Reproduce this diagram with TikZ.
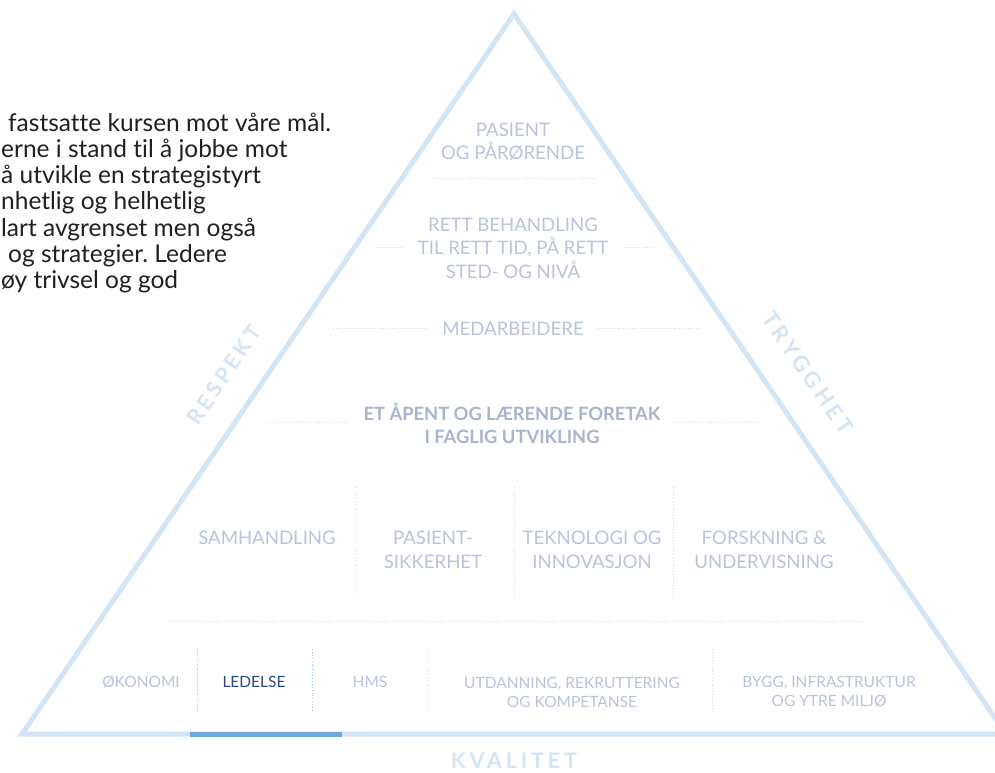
\documentclass[tikz,border=0pt]{standalone}
\usepackage{fontspec}
\setmainfont{Lato}[Ligatures=NoCommon]
\newfontfamily\spacedbold{Lato}[LetterSpace=18,Ligatures=NoCommon]
\definecolor{tric}{HTML}{D3E5F5}
\definecolor{segc}{HTML}{6FA8DC}
\definecolor{labc}{HTML}{B9C3DB}
\definecolor{boldc}{HTML}{A8B3CE}
\definecolor{navy}{HTML}{2B478A}
\definecolor{dotc}{HTML}{C6DBEF}
\definecolor{bodyc}{HTML}{231F20}
\frenchspacing
\begin{document}
\begin{tikzpicture}[x=1pt,y=-1pt,
  lab/.style={text=labc, font=\fontsize{18.6}{23.5}\selectfont, align=center, inner sep=0pt},
  smalllab/.style={text=labc, font=\fontsize{15.5}{19}\selectfont, align=center, inner sep=0pt},
  boldlab/.style={text=boldc, font=\fontsize{18.3}{23}\selectfont\bfseries, align=center, inner sep=0pt},
  side/.style={text=tric, font=\fontsize{21.5}{24}\selectfont\spacedbold\bfseries, inner sep=0pt},
  sep/.style={draw=dotc, line width=0.8pt, dotted},
  strongsep/.style={draw=segc!70, line width=0.9pt, dotted},
  bodytext/.style={text=bodyc, font=\fontsize{24.5}{26}\selectfont, anchor=base west, inner sep=0pt}]
\clip (0,0) rectangle (995,772);
\fill[white] (0,0) rectangle (995,772);
% body text (cropped at the left edge)
\node[bodytext] (b1) at (8,131) {fastsatte kursen mot våre mål.};
\node[bodytext] (b2) at (1,157) {erne i stand til å jobbe mot};
\node[bodytext] (b3) at (1,183) {å utvikle en strategistyrt};
\node[bodytext] (b4) at (1,209) {nhetlig og helhetlig};
\node[bodytext] (b5) at (1,236) {lart avgrenset men også};
\node[bodytext] (b6) at (8,262) {og strategier. Ledere};
\node[bodytext] (b7) at (1,288) {øy trivsel og god};
% triangle
\coordinate (apex) at (514,14);
\coordinate (bl) at (22,734);
\coordinate (br) at (1006,734);
\draw[tric, line width=5pt, line join=miter] (apex) -- (br) -- (bl) -- cycle;
\coordinate (s1) at (190,734);
\coordinate (s2) at (342,734);
\draw[segc, line width=5pt] (s1) -- (s2);
% separators
\draw[sep] (435,178) -- (593,178);
\draw[sep] (376,247) -- (403,247);
\draw[sep] (625,247) -- (653,247);
\draw[sep] (333,328) -- (427,328);
\draw[sep] (598,328) -- (700,328);
\draw[sep] (269,422) -- (347,422);
\draw[sep] (675,422) -- (758,422);
\draw[sep] (356,487) -- (356,598);
\draw[sep] (514,487) -- (514,598);
\draw[sep] (673,487) -- (673,598);
\draw[sep] (168,621) -- (860,621);
\draw[strongsep] (197,649) -- (197,711);
\draw[strongsep] (312,649) -- (312,711);
\draw[sep] (427,649) -- (427,711);
\draw[sep] (712,649) -- (712,711);
% labels
\node[lab] (pas) at (513,142) {PASIENT\\OG PÅRØRENDE};
\node[lab] (rett) at (513,248) {RETT BEHANDLING\\TIL RETT TID, PÅ RETT\\STED- OG NIVÅ};
\node[lab] (med) at (513,329) {MEDARBEIDERE};
\node[boldlab] (fore) at (512,423) {ET ÅPENT OG LÆRENDE FORETAK\\I FAGLIG UTVIKLING};
\node[lab] (sam) at (267,538) {SAMHANDLING};
\node[lab] (psik) at (433,550) {PASIENT-\\SIKKERHET};
\node[lab] (tek) at (592,550) {TEKNOLOGI OG\\INNOVASJON};
\node[lab] (fors) at (764,550) {FORSKNING \&\\UNDERVISNING};
\node[smalllab] (oko) at (141,682) {ØKONOMI};
\node[smalllab, text=navy] (led) at (254,682) {LEDELSE};
\node[smalllab] (hms) at (370,682) {HMS};
\node[smalllab] (utd) at (572,692) {UTDANNING, REKRUTTERING\\OG KOMPETANSE};
\node[smalllab] (bygg) at (829,692) {BYGG, INFRASTRUKTUR\\OG YTRE MILJØ};
% sides
\node[side] (kval) at (514,761) {KVALITET};
\node[side, rotate=55.6] (resp) at (224,375) {RESPEKT};
\node[side, rotate=-55.6, font=\fontsize{22}{24}\selectfont\spacedbold\bfseries] (tryg) at (808,373) {TRYGGHET};
\end{tikzpicture}
\end{document}
